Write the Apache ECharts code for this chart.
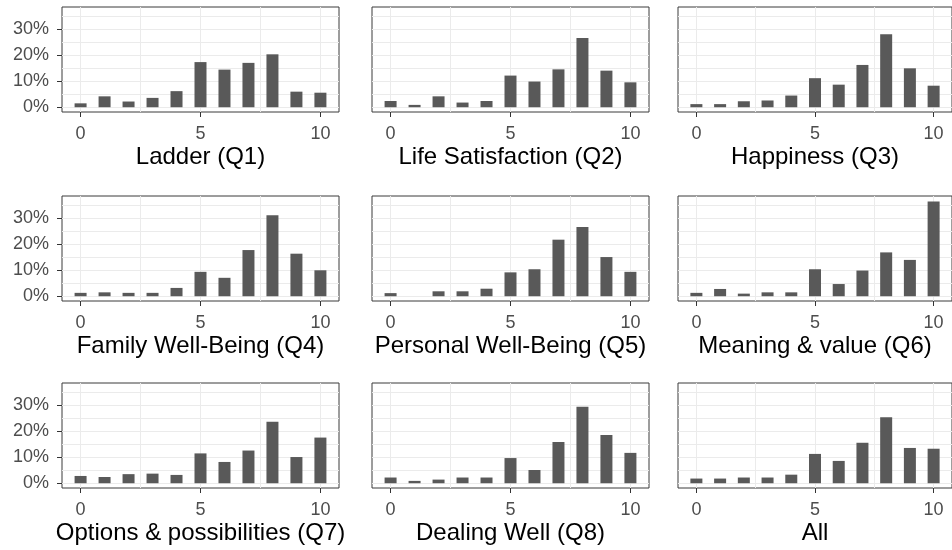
<!DOCTYPE html>
<html><head><meta charset="utf-8">
<script src="https://cdn.jsdelivr.net/npm/echarts@6/dist/echarts.min.js"></script>
<style>html,body{margin:0;padding:0;background:#fff}#c{width:952px;height:550px}</style>
</head><body><div id="c"></div>
<script>
// ---- data ----
const scores = [0,1,2,3,4,5,6,7,8,9,10];
const panelTitles = ['Ladder (Q1)','Life Satisfaction (Q2)','Happiness (Q3)',
  'Family Well-Being (Q4)','Personal Well-Being (Q5)','Meaning & value (Q6)',
  'Options & possibilities (Q7)','Dealing Well (Q8)','All'];
const ladderQ1       = [1.5, 4.2, 2.2, 3.6, 6.2, 17.4, 14.5, 17.1, 20.4, 6.0, 5.6];
const lifeSatQ2      = [2.4, 0.9, 4.2, 1.8, 2.4, 12.2, 9.9, 14.6, 26.7, 14.1, 9.6];
const happinessQ3    = [1.2, 1.2, 2.3, 2.6, 4.5, 11.2, 8.7, 16.3, 28.1, 15.0, 8.3];
const familyQ4       = [1.3, 1.5, 1.3, 1.3, 3.2, 9.4, 7.1, 17.8, 31.2, 16.4, 10.0];
const personalQ5     = [1.2, 0, 1.9, 1.9, 2.9, 9.2, 10.4, 21.8, 26.7, 15.1, 9.4];
const meaningQ6      = [1.3, 2.8, 1.0, 1.5, 1.5, 10.4, 4.7, 9.9, 16.9, 14.0, 36.5];
const optionsQ7      = [2.8, 2.4, 3.5, 3.7, 3.2, 11.5, 8.2, 12.6, 23.7, 10.1, 17.6];
const dealingQ8      = [2.2, 0.9, 1.4, 2.2, 2.2, 9.7, 5.1, 15.9, 29.5, 18.6, 11.7];
const allQ           = [1.8, 1.8, 2.2, 2.2, 3.3, 11.3, 8.6, 15.6, 25.4, 13.6, 13.3];
const panelValues = [ladderQ1, lifeSatQ2, happinessQ3, familyQ4, personalQ5, meaningQ6, optionsQ7, dealingQ8, allQ];
const xTickValues = [0, 5, 10];
const xGridValues = [0, 2.5, 5, 7.5, 10];
const yTickValues = [0, 10, 20, 30];
const yGridValues = [0, 5, 10, 15, 20, 25, 30, 35];
const xLimits = [-0.775, 10.775];
const yLimits = [-1.84, 38.64];

// ---- layout ----
const colLeft = [62, 372, 678];
const rowTop = [7, 196, 383];
const panelW = 277, panelH = 105;
const font = 'Liberation Sans, Arial, sans-serif';

const grids = [], xAxes = [], yAxes = [], series = [];
panelValues.forEach((vals, i) => {
  const r = Math.floor(i / 3), c = i % 3;
  grids.push({left: colLeft[c], top: rowTop[r], width: panelW, height: panelH,
    show: true, borderColor: '#3a3a3a', borderWidth: 1, backgroundColor: 'transparent', containLabel: false});
  // primary x axis
  xAxes.push({gridIndex: i, type: 'value', min: xLimits[0], max: xLimits[1], position: 'bottom',
    axisLine: {show: false, onZero: false}, splitLine: {show: false},
    axisTick: {show: true, length: 5, customValues: xTickValues, lineStyle: {color: '#333', width: 1}},
    axisLabel: {show: true, customValues: xTickValues, margin: 13, color: '#4d4d4d', fontSize: 18, fontFamily: font},
    name: panelTitles[i], nameLocation: 'middle', nameGap: 33,
    nameTextStyle: {color: '#000', fontSize: 24, fontFamily: font}
  });
  // grid-line x axis
  xAxes.push({gridIndex: i, type: 'value', min: xLimits[0], max: xLimits[1], position: 'top',
    axisLine: {show: false, onZero: false}, axisLabel: {show: false},
    axisTick: {show: false, customValues: xGridValues},
    splitLine: {show: true, lineStyle: {color: '#ebebeb', width: 1}}
  });
  yAxes.push({gridIndex: i, type: 'value', min: yLimits[0], max: yLimits[1], position: 'left',
    axisLine: {show: false, onZero: false}, splitLine: {show: false},
    axisTick: {show: c === 0, length: 5, customValues: yTickValues, lineStyle: {color: '#333', width: 1}},
    axisLabel: {show: c === 0, customValues: yTickValues, margin: 13, color: '#4d4d4d', fontSize: 18, fontFamily: font,
      formatter: v => v + '%'}
  });
  yAxes.push({gridIndex: i, type: 'value', min: yLimits[0], max: yLimits[1], position: 'right',
    axisLine: {show: false, onZero: false}, axisLabel: {show: false},
    axisTick: {show: false, customValues: yGridValues},
    splitLine: {show: true, lineStyle: {color: '#ebebeb', width: 1}}
  });
  series.push({type: 'bar', xAxisIndex: 2 * i, yAxisIndex: 2 * i, barWidth: 12,
    itemStyle: {color: '#595959'}, silent: true,
    data: scores.map((s, k) => [s, vals[k]])});
});

const chart = echarts.init(document.getElementById('c'), null, {renderer: 'canvas'});
chart.setOption({animation: false, backgroundColor: '#fff', grid: grids, xAxis: xAxes, yAxis: yAxes, series});
</script></body></html>
